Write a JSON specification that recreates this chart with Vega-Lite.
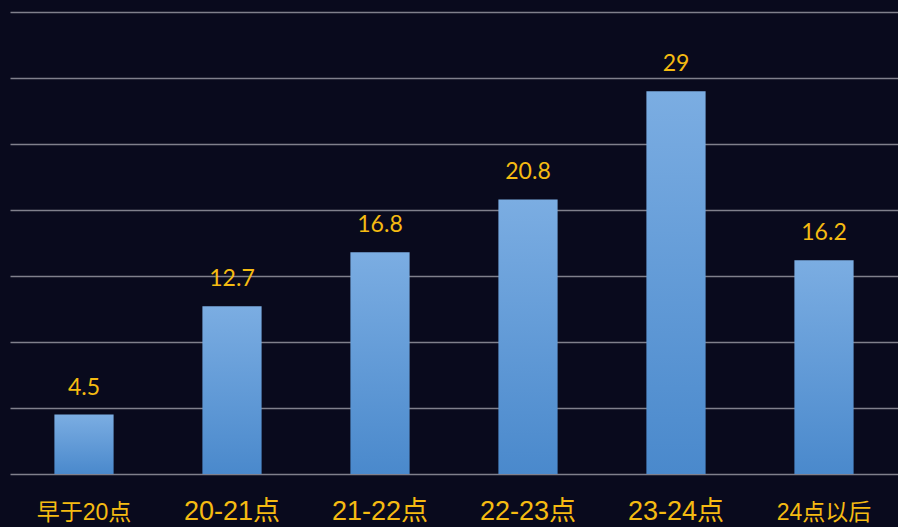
{
  "$schema": "https://vega.github.io/schema/vega-lite/v6.json",
  "width": 888,
  "height": 462,
  "autosize": {"type": "none"},
  "padding": {"left": 10, "top": 12, "right": 0, "bottom": 53},
  "background": "#090a1d",
  "config": {"view": {"stroke": null}},
  "data": {
    "values": [
      {"cat": "早于20点", "v": 4.5},
      {"cat": "20-21点", "v": 12.7},
      {"cat": "21-22点", "v": 16.8},
      {"cat": "22-23点", "v": 20.8},
      {"cat": "23-24点", "v": 29},
      {"cat": "24点以后", "v": 16.2}
    ]
  },
  "encoding": {
    "x": {
      "field": "cat", "type": "nominal", "sort": null,
      "scale": {"paddingInner": 0.6, "paddingOuter": 0.3},
      "axis": {"title": null, "domain": false, "ticks": false, "labelAngle": 0, "labelPadding": 45,
        "labelFontSize": {"condition": {"test": "datum.value == '早于20点' || datum.value == '24点以后'", "value": 23}, "value": 27},
        "labelColor": "#f5bb12", "labelFont": "Liberation Sans, Noto Sans CJK SC", "labelBaseline": "alphabetic"}
    },
    "y": {
      "field": "v", "type": "quantitative",
      "scale": {"domain": [0, 35], "nice": false},
      "axis": {"title": null, "labels": false, "ticks": false, "domain": false,
        "values": [0, 5, 10, 15, 20, 25, 30, 35], "gridColor": "#80808c", "gridWidth": 1.6, "gridOpacity": 1}
    }
  },
  "layer": [
    {
      "mark": {"type": "bar", "fill": {"gradient": "linear", "x1": 0, "y1": 0, "x2": 0, "y2": 1,
        "stops": [{"offset": 0, "color": "#7badE2"}, {"offset": 1, "color": "#4a89cc"}]}}
    },
    {
      "mark": {"type": "text", "baseline": "alphabetic", "dy": -20, "fontSize": 23, "color": "#f5bb12", "font": "Lato"},
      "encoding": {"text": {"field": "v", "type": "quantitative"}}
    }
  ]
}
